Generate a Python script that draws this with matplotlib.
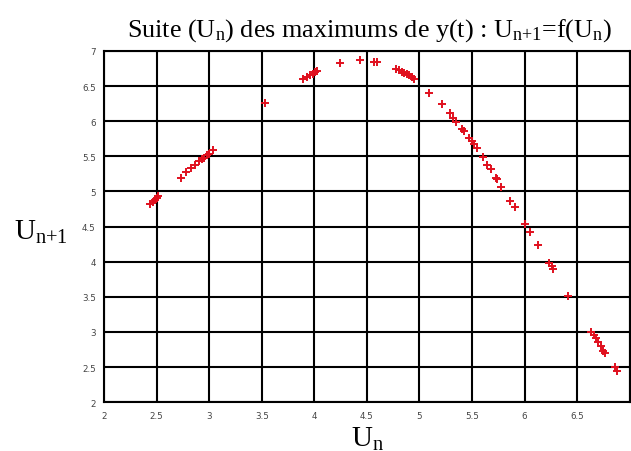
import numpy as np
import matplotlib
matplotlib.use("Agg")
import matplotlib.pyplot as plt

plt.rcParams['mathtext.fontset'] = 'custom'
plt.rcParams['mathtext.rm'] = 'Liberation Serif'
plt.rcParams['mathtext.it'] = 'Liberation Serif'

# successive maxima of y(t): U_n on x, U_{n+1} on y
u_n = [2.437, 2.469, 2.485, 2.501, 2.516,
       2.732, 2.779, 2.824, 2.865, 2.906, 2.929, 2.951, 2.976, 3.001, 3.039,
       3.530,
       3.895, 3.927, 3.958, 3.984, 4.006, 4.022,
       4.243, 4.434, 4.570, 4.600,
       4.776, 4.807, 4.830, 4.852, 4.877, 4.902, 4.925, 4.947,
       5.093, 5.210, 5.289, 5.320, 5.352, 5.400, 5.422,
       5.473, 5.495, 5.517, 5.543, 5.606, 5.644, 5.676, 5.726, 5.742,
       5.780, 5.859, 5.907, 6.002, 6.049, 6.128,
       6.233, 6.256, 6.271, 6.414,
       6.636, 6.658, 6.677, 6.699, 6.722, 6.746, 6.762,
       6.857, 6.879]
u_next = [4.818, 4.850, 4.880, 4.910, 4.930,
          5.198, 5.278, 5.330, 5.373, 5.434, 5.459, 5.483, 5.516, 5.540, 5.591,
          6.256,
          6.607, 6.636, 6.659, 6.678, 6.697, 6.711,
          6.835, 6.872, 6.849, 6.843,
          6.750, 6.730, 6.707, 6.693, 6.673, 6.654, 6.636, 6.607,
          6.408, 6.241, 6.113, 6.052, 5.995, 5.896, 5.862,
          5.767, 5.719, 5.672, 5.625, 5.497, 5.373, 5.316, 5.198, 5.174,
          5.070, 4.865, 4.780, 4.533, 4.424, 4.239,
          3.988, 3.940, 3.893, 3.513,
          3.001, 2.954, 2.907, 2.858, 2.801, 2.730, 2.707,
          2.494, 2.445]

xticks = np.arange(2, 7.01, 0.5)
yticks = np.arange(2, 7.01, 0.5)
tick_labels = ['2', '2.5', '3', '3.5', '4', '4.5', '5', '5.5', '6', '6.5', '7']

fig = plt.figure(figsize=(6.31, 4.52), dpi=100)
ax = fig.add_axes([0.165, 0.108, 0.833, 0.777])

ax.plot(u_n, u_next, '+', color='#e0101e', markersize=5.5, markeredgewidth=1.4)

ax.set_xlim(2, 7)
ax.set_ylim(2, 7)
ax.set_xticks(xticks)
ax.set_yticks(yticks)
ax.set_xticklabels(tick_labels[:-1] + [''])
ax.set_yticklabels(tick_labels)
ax.tick_params(length=0, pad=6, labelsize=6.3, labelcolor='#444444')
ax.grid(True, color='black', linewidth=1.5)
for s in ax.spines.values():
    s.set_linewidth(1.5)

serif = 'Liberation Serif'
fig.text(0.585, 0.92,
         r'Suite (U$_\mathrm{n}$) des maximums de y(t) : U$_\mathrm{n{+}1}$=f(U$_\mathrm{n}$)',
         ha='center', va='baseline', fontsize=18.8, family=serif)
fig.text(0.583, 0.012, r'U$_\mathrm{n}$', ha='center', va='baseline', fontsize=21, family=serif)
fig.text(0.022, 0.47, r'U$_\mathrm{n{+}1}$', ha='left', va='baseline', fontsize=21, family=serif)

fig.savefig('out.png', dpi=100)
